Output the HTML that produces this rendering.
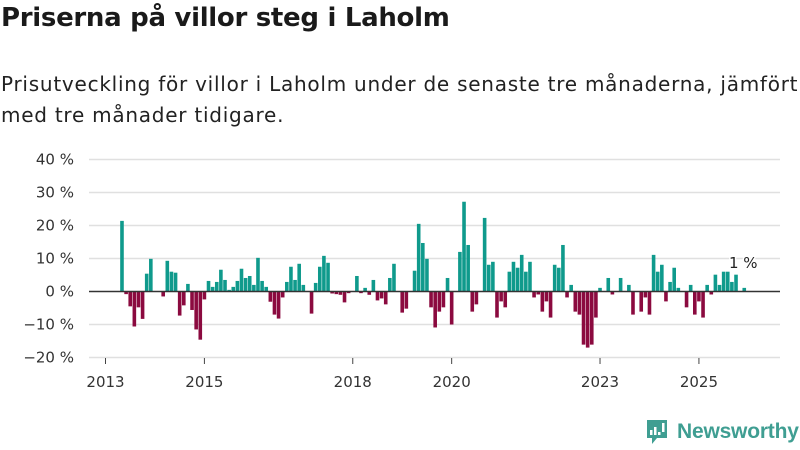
<!DOCTYPE html>
<html><head><meta charset="utf-8">
<style>
html,body{margin:0;padding:0;background:#fff;}
body{width:800px;height:450px;overflow:hidden;font-family:"DejaVu Sans","Liberation Sans",sans-serif;color:#222;position:relative;}
h1{position:absolute;left:1px;top:3px;margin:0;font-size:26px;font-weight:bold;color:#1a1a1a;letter-spacing:-0.3px;white-space:nowrap;}
p.sub{position:absolute;left:1px;top:69px;margin:0;font-size:20px;line-height:31px;color:#222;width:800px;white-space:nowrap;letter-spacing:0.75px;}
svg{position:absolute;left:0;top:0;}
.logo{position:absolute;left:645px;top:418px;display:flex;align-items:center;}
.logo span{font-family:"Liberation Sans",sans-serif;font-size:21px;font-weight:bold;color:#3f9e92;margin-left:8px;letter-spacing:-0.2px;}
</style></head>
<body>
<h1>Priserna på villor steg i Laholm</h1>
<p class="sub">Prisutveckling för villor i Laholm under de senaste tre månaderna, jämfört<br>med tre månader tidigare.</p>
<svg id="chart" width="800" height="450"></svg>
<div class="logo">
<svg width="24" height="28" viewBox="0 0 24 28" style="position:static"><path d="M2 2h20v18H12l-5 6v-6H2z" fill="#3f9e92"/><rect x="5" y="12" width="2.5" height="5" fill="#fff"/><rect x="9" y="9" width="2.5" height="8" fill="#fff"/><rect x="13" y="14" width="2.5" height="3" fill="#fff"/><rect x="17" y="5" width="2.5" height="9" fill="#fff"/></svg>
<span>Newsworthy</span></div>
<script>
const monthIdx=[4,5,6,7,8,9,10,11,14,15,16,17,18,19,20,21,22,23,24,25,26,27,28,29,30,31,32,33,34,35,36,37,38,39,40,41,42,43,44,45,46,47,48,50,51,52,53,54,55,56,57,58,59,61,62,63,64,65,66,67,68,69,70,72,73,75,76,77,78,79,80,81,82,83,84,86,87,88,89,90,92,93,94,95,96,97,98,99,100,101,102,103,104,105,106,107,108,109,110,111,112,113,114,115,116,117,118,119,120,122,123,125,127,128,130,131,132,133,134,135,136,137,138,139,141,142,143,144,145,146,147,148,149,150,151,152,153,155];
const values=[21.4,-0.8,-4.5,-10.6,-4.8,-8.3,5.4,9.9,-1.5,9.3,6.0,5.7,-7.3,-4.2,2.3,-5.6,-11.5,-14.6,-2.4,3.2,1.4,2.9,6.6,3.5,0.5,1.4,3.2,6.9,4.1,4.7,2.0,10.2,3.2,1.4,-3.1,-7.0,-8.2,-1.8,2.9,7.5,3.5,8.4,2.0,-6.7,2.6,7.5,10.8,8.7,-0.6,-0.8,-1.0,-3.3,-0.5,4.7,-0.5,1.1,-1.0,3.5,-2.7,-2.1,-3.9,4.1,8.4,-6.4,-5.2,6.3,20.5,14.7,9.9,-4.8,-10.9,-6.1,-4.8,4.1,-10.0,12.0,27.2,14.1,-6.1,-3.9,22.3,8.1,9.0,-7.9,-3.0,-4.8,6.0,9.0,7.2,11.1,6.0,9.0,-1.8,-0.9,-6.1,-3.0,-7.9,8.1,7.2,14.1,-1.8,2.0,-6.1,-7.0,-16.1,-17.0,-16.1,-7.9,1.1,4.1,-0.9,4.1,2.0,-7.0,-6.1,-1.8,-7.0,11.1,6.0,8.1,-3.0,2.9,7.2,1.1,-4.8,2.0,-7.0,-3.0,-7.9,2.0,-0.9,5.1,2.0,6.0,6.0,2.9,5.1,1.1];
const yTicks=[40,30,20,10,0,-10,-20];
const yTickLabels=["40 %","30 %","20 %","10 %","0 %","−10 %","−20 %"];
const xTickYears=[2013,2015,2018,2020,2023,2025];
const lastLabel="1 %";

const NS="http://www.w3.org/2000/svg";
const svg=document.getElementById('chart');
const y=v=>291.5-v*3.3;
const x=m=>105.5+m*4.121;
const FF='DejaVu Sans, Liberation Sans, sans-serif';
function mk(t,a){const e=document.createElementNS(NS,t);for(const k in a)e.setAttribute(k,a[k]);svg.appendChild(e);return e;}
yTicks.forEach((t,i)=>{
  if(t!==0){const g=mk('line',{x1:89,x2:780,y1:y(t),y2:y(t),stroke:'#e0e0e0','stroke-width':1.5});
  
  }
  const l=mk('text',{x:74,y:y(t)+5,'text-anchor':'end','font-size':15,fill:'#333','font-family':FF});
  l.textContent=yTickLabels[i];
  
  
});
xTickYears.forEach(yr=>{
  const m=(yr-2013)*12;
  const tk=mk('line',{x1:x(m),x2:x(m),y1:358,y2:364,stroke:'#444','stroke-width':1});
  
  
  const l=mk('text',{x:x(m),y:387,'text-anchor':'middle','font-size':15,fill:'#333','font-family':FF});
  l.textContent=yr;
  
  
});
values.forEach((v,i)=>{
  const cx=x(monthIdx[i]);
  const r=mk('rect',{x:cx-1.8,width:3.6,y:Math.min(y(v),y(0)),height:Math.abs(y(v)-y(0)),fill:v>=0?'#0f9a8c':'#8b0a3f'});
  
  
});
const z=mk('line',{x1:89,x2:780,y1:y(0),y2:y(0),stroke:'#333','stroke-width':1.5});


const li=values.length-1;
const vl=mk('text',{x:x(monthIdx[li])-1,y:y(values[li])-20,'text-anchor':'middle','font-size':15,fill:'#222',stroke:'#fff','stroke-width':3,'paint-order':'stroke','font-family':FF});
vl.textContent=lastLabel;


</script>
</body></html>
